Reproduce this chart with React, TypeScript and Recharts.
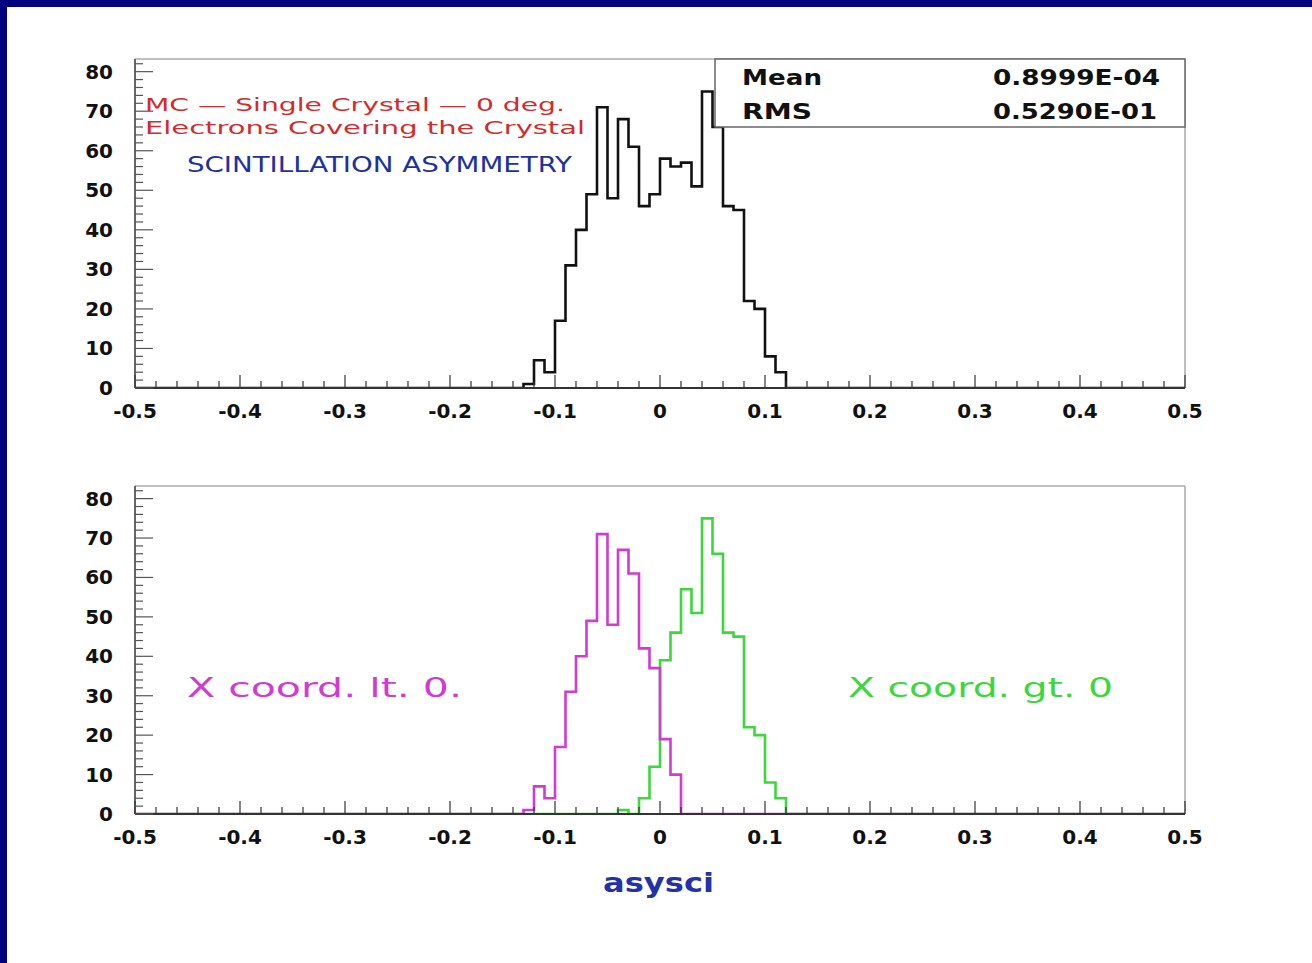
import { Line, LineChart, ReferenceLine, XAxis, YAxis } from "recharts";

// lower edges of the filled bins (bin width 0.01, 100 bins over -0.5..0.5)
const binLow = [
  -0.13, -0.12, -0.11, -0.1, -0.09, -0.08, -0.07, -0.06, -0.05, -0.04, -0.03,
  -0.02, -0.01, 0, 0.01, 0.02, 0.03, 0.04, 0.05, 0.06, 0.07, 0.08, 0.09, 0.1,
  0.11,
];
const allCounts = [
  1, 7, 4, 17, 31, 40, 49, 71, 48, 68, 61, 46, 49, 58, 56, 57, 51, 75, 66, 46,
  45, 22, 20, 8, 4,
];
const ltZeroCounts = [
  1, 7, 4, 17, 31, 40, 49, 71, 48, 67, 61, 42, 37, 19, 10, 0, 0, 0, 0, 0, 0, 0,
  0, 0, 0,
];
const gtZeroCounts = [
  0, 0, 0, 0, 0, 0, 0, 0, 0, 1, 0, 4, 12, 39, 46, 57, 51, 75, 66, 46, 45, 22,
  20, 8, 4,
];

const xMajorTicks = [-0.5, -0.4, -0.3, -0.2, -0.1, 0, 0.1, 0.2, 0.3, 0.4, 0.5];
const yMajorTicks = [0, 10, 20, 30, 40, 50, 60, 70, 80];

const statNames = ["Mean", "RMS"];
const statValues = ["0.8999E-04", "0.5290E-01"];

const X_MIN = -0.5;
const X_MAX = 0.5;
const LAST_EDGE = 0.12;
const Y_MAX = 83.2;

const xTicks = Array.from({ length: 51 }, (_, i) => +(X_MIN + i * 0.02).toFixed(2));
const yTicks = Array.from({ length: 42 }, (_, i) => i * 2);

// step points: empty range on both sides, filled bins in the middle
const topData = [
  { x: X_MIN, all: 0 },
  ...binLow.map((x, i) => ({ x, all: allCounts[i] })),
  { x: LAST_EDGE, all: 0 },
  { x: X_MAX, all: 0 },
];
const bottomData = [
  { x: X_MIN, lt: 0, gt: 0 },
  ...binLow.map((x, i) => ({ x, lt: ltZeroCounts[i], gt: gtZeroCounts[i] })),
  { x: LAST_EDGE, lt: 0, gt: 0 },
  { x: X_MAX, lt: 0, gt: 0 },
];

const tickFont = "'DejaVu Sans', sans-serif";
const textFont = "'DejaVu Sans', sans-serif";

const fmt = (v: number) => (v === 0 ? "0" : v.toFixed(1));

const XTick = (props: any) => {
  const { x, y, payload } = props;
  const v = payload.value;
  const major = xMajorTicks.some((m) => Math.abs(m - v) < 1e-6);
  return (
    <g>
      <line x1={x} x2={x} y1={y} y2={y - (major ? 13 : 7)} stroke="#333" strokeWidth={1.2} />
      {major && (
        <text
          x={x}
          y={y + 30}
          textAnchor="middle"
          fontFamily={tickFont}
          fontWeight="bold"
          fontSize={20}
          fill="#111"
        >
          {fmt(v)}
        </text>
      )}
    </g>
  );
};

const YTick = (props: any) => {
  const { x, y, payload } = props;
  const v = payload.value;
  const major = yMajorTicks.includes(v);
  return (
    <g>
      <line x1={x} x2={x + (major ? 18 : 8)} y1={y} y2={y} stroke="#555" strokeWidth={1.2} />
      {major && (
        <text
          x={x - 22}
          y={y + 7}
          textAnchor="end"
          fontFamily={tickFont}
          fontWeight="bold"
          fontSize={20}
          fill="#111"
        >
          {v}
        </text>
      )}
    </g>
  );
};

function Axes({ xHeight }: { xHeight: number }) {
  return [
    <XAxis
      key="x"
      type="number"
      dataKey="x"
      domain={[X_MIN, X_MAX]}
      ticks={xTicks}
      interval={0}
      tickSize={0}
      tickMargin={0}
      tick={<XTick />}
      height={xHeight}
      axisLine={{ stroke: "#333", strokeWidth: 2 }}
      allowDataOverflow
    />,
    <YAxis
      key="y"
      type="number"
      domain={[0, Y_MAX]}
      ticks={yTicks}
      interval={0}
      tickSize={0}
      tickMargin={0}
      tick={<YTick />}
      width={135}
      axisLine={{ stroke: "#666", strokeWidth: 2 }}
      allowDataOverflow
    />,
    <ReferenceLine key="top" y={Y_MAX} stroke="#aaa" strokeWidth={1.5} />,
    <ReferenceLine key="right" x={X_MAX} stroke="#aaa" strokeWidth={1.5} />,
  ];
}

export default function App() {
  return (
    <div
      style={{
        position: "fixed",
        left: 0,
        top: 0,
        width: 1312,
        height: 963,
        background: "#fff",
        overflow: "hidden",
      }}
    >
      <div style={{ position: "absolute", left: 0, top: 0, width: 1312, height: 7, background: "#000080" }} />
      <div style={{ position: "absolute", left: 0, top: 0, width: 7, height: 963, background: "#000080" }} />

      <div style={{ position: "absolute", left: 0, top: 0 }}>
        <LineChart width={1312} height={450} data={topData} margin={{ top: 59, right: 127, bottom: 0, left: 0 }}>
          {Axes({ xHeight: 62 })}
          <Line
            type="stepAfter"
            dataKey="all"
            stroke="#111"
            strokeWidth={2.6}
            dot={false}
            activeDot={false}
            isAnimationActive={false}
          />
        </LineChart>
      </div>

      <div style={{ position: "absolute", left: 0, top: 427 }}>
        <LineChart width={1312} height={450} data={bottomData} margin={{ top: 59, right: 127, bottom: 0, left: 0 }}>
          {Axes({ xHeight: 63 })}
          <Line
            type="stepAfter"
            dataKey="gt"
            stroke="#3ad83a"
            strokeWidth={2.6}
            dot={false}
            activeDot={false}
            isAnimationActive={false}
          />
          <Line
            type="stepAfter"
            dataKey="lt"
            stroke="#d23ad2"
            strokeWidth={2.6}
            dot={false}
            activeDot={false}
            isAnimationActive={false}
          />
        </LineChart>
      </div>

      <svg
        width={1312}
        height={963}
        style={{ position: "absolute", left: 0, top: 0, pointerEvents: "none" }}
      >
        {/* stats box */}
        <rect x={715} y={59} width={470} height={68} fill="#fff" stroke="#666" strokeWidth={1.5} />
        {statNames.map((n, i) => (
          <g key={n}>
            <text
              x={742}
              y={85 + i * 34}
              fontFamily={tickFont}
              fontWeight="bold"
              fontSize={22}
              fill="#111"
              textLength={i === 0 ? 80 : 70}
              lengthAdjust="spacingAndGlyphs"
            >
              {n}
            </text>
            <text
              x={993}
              y={85 + i * 34}
              fontFamily={tickFont}
              fontWeight="bold"
              fontSize={22}
              fill="#111"
              textLength={i === 0 ? 167 : 164}
              lengthAdjust="spacingAndGlyphs"
            >
              {statValues[i]}
            </text>
          </g>
        ))}

        <text x={145} y={111} fontFamily={textFont} fontSize={18} fill="#d42a2a" textLength={420} lengthAdjust="spacingAndGlyphs">
          MC — Single Crystal — 0 deg.
        </text>
        <text x={145} y={134} fontFamily={textFont} fontSize={18} fill="#d42a2a" textLength={440} lengthAdjust="spacingAndGlyphs">
          Electrons Covering the Crystal
        </text>
        <text x={187} y={172} fontFamily={textFont} fontSize={22} fill="#2030a0" textLength={385} lengthAdjust="spacingAndGlyphs">
          SCINTILLATION ASYMMETRY
        </text>

        <text x={187} y={697} fontFamily={textFont} fontSize={27} fill="#d23ad2" textLength={275} lengthAdjust="spacingAndGlyphs">
          X coord. lt.  0.
        </text>
        <text x={848} y={697} fontFamily={textFont} fontSize={27} fill="#3ad83a" textLength={265} lengthAdjust="spacingAndGlyphs">
          X coord. gt. 0
        </text>
        <text x={603} y={892} fontFamily={textFont} fontWeight="bold" fontSize={26} fill="#2233aa" textLength={111} lengthAdjust="spacingAndGlyphs">
          asysci
        </text>
      </svg>
    </div>
  );
}
